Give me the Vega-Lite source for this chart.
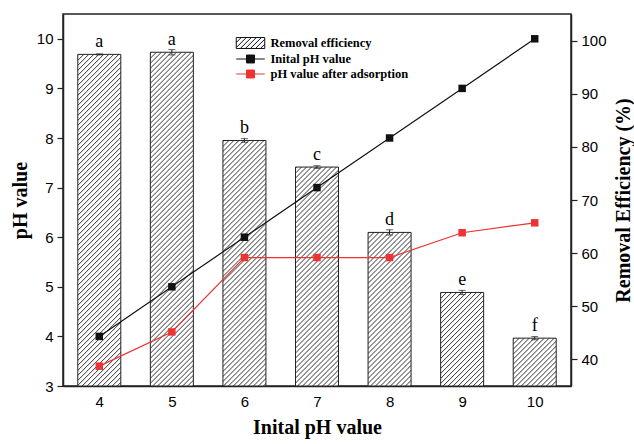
{
"$schema": "https://vega.github.io/schema/vega-lite/v6.json",
"width": 508, "height": 372,
"autosize": "none",
"padding": {"left": 63, "top": 14, "right": 63, "bottom": 58},
"background": "white",
"params": [{"name": "hatch", "value": [
{"offset":0,"color":"#fff"},{"offset":0.002,"color":"#333"},{"offset":0.004,"color":"#fff"},
{"offset":0.01,"color":"#fff"},{"offset":0.012,"color":"#333"},{"offset":0.014,"color":"#fff"},
{"offset":0.02,"color":"#fff"},{"offset":0.022,"color":"#333"},{"offset":0.024,"color":"#fff"},
{"offset":0.03,"color":"#fff"},{"offset":0.032,"color":"#333"},{"offset":0.034,"color":"#fff"},
{"offset":0.04,"color":"#fff"},{"offset":0.042,"color":"#333"},{"offset":0.044,"color":"#fff"},
{"offset":0.05,"color":"#fff"},{"offset":0.052,"color":"#333"},{"offset":0.054,"color":"#fff"},
{"offset":0.06,"color":"#fff"},{"offset":0.062,"color":"#333"},{"offset":0.064,"color":"#fff"},
{"offset":0.07,"color":"#fff"},{"offset":0.072,"color":"#333"},{"offset":0.074,"color":"#fff"},
{"offset":0.08,"color":"#fff"},{"offset":0.082,"color":"#333"},{"offset":0.084,"color":"#fff"},
{"offset":0.09,"color":"#fff"},{"offset":0.092,"color":"#333"},{"offset":0.094,"color":"#fff"},
{"offset":0.1,"color":"#fff"},{"offset":0.102,"color":"#333"},{"offset":0.104,"color":"#fff"},
{"offset":0.11,"color":"#fff"},{"offset":0.112,"color":"#333"},{"offset":0.114,"color":"#fff"},
{"offset":0.12,"color":"#fff"},{"offset":0.122,"color":"#333"},{"offset":0.124,"color":"#fff"},
{"offset":0.13,"color":"#fff"},{"offset":0.132,"color":"#333"},{"offset":0.134,"color":"#fff"},
{"offset":0.14,"color":"#fff"},{"offset":0.142,"color":"#333"},{"offset":0.144,"color":"#fff"},
{"offset":0.15,"color":"#fff"},{"offset":0.152,"color":"#333"},{"offset":0.154,"color":"#fff"},
{"offset":0.16,"color":"#fff"},{"offset":0.162,"color":"#333"},{"offset":0.164,"color":"#fff"},
{"offset":0.17,"color":"#fff"},{"offset":0.172,"color":"#333"},{"offset":0.174,"color":"#fff"},
{"offset":0.18,"color":"#fff"},{"offset":0.182,"color":"#333"},{"offset":0.184,"color":"#fff"},
{"offset":0.19,"color":"#fff"},{"offset":0.192,"color":"#333"},{"offset":0.194,"color":"#fff"},
{"offset":0.2,"color":"#fff"},{"offset":0.202,"color":"#333"},{"offset":0.204,"color":"#fff"},
{"offset":0.21,"color":"#fff"},{"offset":0.212,"color":"#333"},{"offset":0.214,"color":"#fff"},
{"offset":0.22,"color":"#fff"},{"offset":0.222,"color":"#333"},{"offset":0.224,"color":"#fff"},
{"offset":0.23,"color":"#fff"},{"offset":0.232,"color":"#333"},{"offset":0.234,"color":"#fff"},
{"offset":0.24,"color":"#fff"},{"offset":0.242,"color":"#333"},{"offset":0.244,"color":"#fff"},
{"offset":0.25,"color":"#fff"},{"offset":0.252,"color":"#333"},{"offset":0.254,"color":"#fff"},
{"offset":0.26,"color":"#fff"},{"offset":0.262,"color":"#333"},{"offset":0.264,"color":"#fff"},
{"offset":0.27,"color":"#fff"},{"offset":0.272,"color":"#333"},{"offset":0.274,"color":"#fff"},
{"offset":0.28,"color":"#fff"},{"offset":0.282,"color":"#333"},{"offset":0.284,"color":"#fff"},
{"offset":0.29,"color":"#fff"},{"offset":0.292,"color":"#333"},{"offset":0.294,"color":"#fff"},
{"offset":0.3,"color":"#fff"},{"offset":0.302,"color":"#333"},{"offset":0.304,"color":"#fff"},
{"offset":0.31,"color":"#fff"},{"offset":0.312,"color":"#333"},{"offset":0.314,"color":"#fff"},
{"offset":0.32,"color":"#fff"},{"offset":0.322,"color":"#333"},{"offset":0.324,"color":"#fff"},
{"offset":0.33,"color":"#fff"},{"offset":0.332,"color":"#333"},{"offset":0.334,"color":"#fff"},
{"offset":0.34,"color":"#fff"},{"offset":0.342,"color":"#333"},{"offset":0.344,"color":"#fff"},
{"offset":0.35,"color":"#fff"},{"offset":0.352,"color":"#333"},{"offset":0.354,"color":"#fff"},
{"offset":0.36,"color":"#fff"},{"offset":0.362,"color":"#333"},{"offset":0.364,"color":"#fff"},
{"offset":0.37,"color":"#fff"},{"offset":0.372,"color":"#333"},{"offset":0.374,"color":"#fff"},
{"offset":0.38,"color":"#fff"},{"offset":0.382,"color":"#333"},{"offset":0.384,"color":"#fff"},
{"offset":0.39,"color":"#fff"},{"offset":0.392,"color":"#333"},{"offset":0.394,"color":"#fff"},
{"offset":0.4,"color":"#fff"},{"offset":0.402,"color":"#333"},{"offset":0.404,"color":"#fff"},
{"offset":0.41,"color":"#fff"},{"offset":0.412,"color":"#333"},{"offset":0.414,"color":"#fff"},
{"offset":0.42,"color":"#fff"},{"offset":0.422,"color":"#333"},{"offset":0.424,"color":"#fff"},
{"offset":0.43,"color":"#fff"},{"offset":0.432,"color":"#333"},{"offset":0.434,"color":"#fff"},
{"offset":0.44,"color":"#fff"},{"offset":0.442,"color":"#333"},{"offset":0.444,"color":"#fff"},
{"offset":0.45,"color":"#fff"},{"offset":0.452,"color":"#333"},{"offset":0.454,"color":"#fff"},
{"offset":0.46,"color":"#fff"},{"offset":0.462,"color":"#333"},{"offset":0.464,"color":"#fff"},
{"offset":0.47,"color":"#fff"},{"offset":0.472,"color":"#333"},{"offset":0.474,"color":"#fff"},
{"offset":0.48,"color":"#fff"},{"offset":0.482,"color":"#333"},{"offset":0.484,"color":"#fff"},
{"offset":0.49,"color":"#fff"},{"offset":0.492,"color":"#333"},{"offset":0.494,"color":"#fff"},
{"offset":0.5,"color":"#fff"},{"offset":0.502,"color":"#333"},{"offset":0.504,"color":"#fff"},
{"offset":0.51,"color":"#fff"},{"offset":0.512,"color":"#333"},{"offset":0.514,"color":"#fff"},
{"offset":0.52,"color":"#fff"},{"offset":0.522,"color":"#333"},{"offset":0.524,"color":"#fff"},
{"offset":0.53,"color":"#fff"},{"offset":0.532,"color":"#333"},{"offset":0.534,"color":"#fff"},
{"offset":0.54,"color":"#fff"},{"offset":0.542,"color":"#333"},{"offset":0.544,"color":"#fff"},
{"offset":0.55,"color":"#fff"},{"offset":0.552,"color":"#333"},{"offset":0.554,"color":"#fff"},
{"offset":0.56,"color":"#fff"},{"offset":0.562,"color":"#333"},{"offset":0.564,"color":"#fff"},
{"offset":0.57,"color":"#fff"},{"offset":0.572,"color":"#333"},{"offset":0.574,"color":"#fff"},
{"offset":0.58,"color":"#fff"},{"offset":0.582,"color":"#333"},{"offset":0.584,"color":"#fff"},
{"offset":0.59,"color":"#fff"},{"offset":0.592,"color":"#333"},{"offset":0.594,"color":"#fff"},
{"offset":0.6,"color":"#fff"},{"offset":0.602,"color":"#333"},{"offset":0.604,"color":"#fff"},
{"offset":0.61,"color":"#fff"},{"offset":0.612,"color":"#333"},{"offset":0.614,"color":"#fff"},
{"offset":0.62,"color":"#fff"},{"offset":0.622,"color":"#333"},{"offset":0.624,"color":"#fff"},
{"offset":0.63,"color":"#fff"},{"offset":0.632,"color":"#333"},{"offset":0.634,"color":"#fff"},
{"offset":0.64,"color":"#fff"},{"offset":0.642,"color":"#333"},{"offset":0.644,"color":"#fff"},
{"offset":0.65,"color":"#fff"},{"offset":0.652,"color":"#333"},{"offset":0.654,"color":"#fff"},
{"offset":0.66,"color":"#fff"},{"offset":0.662,"color":"#333"},{"offset":0.664,"color":"#fff"},
{"offset":0.67,"color":"#fff"},{"offset":0.672,"color":"#333"},{"offset":0.674,"color":"#fff"},
{"offset":0.68,"color":"#fff"},{"offset":0.682,"color":"#333"},{"offset":0.684,"color":"#fff"},
{"offset":0.69,"color":"#fff"},{"offset":0.692,"color":"#333"},{"offset":0.694,"color":"#fff"},
{"offset":0.7,"color":"#fff"},{"offset":0.702,"color":"#333"},{"offset":0.704,"color":"#fff"},
{"offset":0.71,"color":"#fff"},{"offset":0.712,"color":"#333"},{"offset":0.714,"color":"#fff"},
{"offset":0.72,"color":"#fff"},{"offset":0.722,"color":"#333"},{"offset":0.724,"color":"#fff"},
{"offset":0.73,"color":"#fff"},{"offset":0.732,"color":"#333"},{"offset":0.734,"color":"#fff"},
{"offset":0.74,"color":"#fff"},{"offset":0.742,"color":"#333"},{"offset":0.744,"color":"#fff"},
{"offset":0.75,"color":"#fff"},{"offset":0.752,"color":"#333"},{"offset":0.754,"color":"#fff"},
{"offset":0.76,"color":"#fff"},{"offset":0.762,"color":"#333"},{"offset":0.764,"color":"#fff"}
]}],
"datasets": {
"bars": [
{"pH": 4, "eff": 97.4, "lo": 97.3, "hi": 97.5, "sig": "a"},
{"pH": 5, "eff": 97.8, "lo": 97.3, "hi": 98.3, "sig": "a"},
{"pH": 6, "eff": 81.2, "lo": 80.85, "hi": 81.55, "sig": "b"},
{"pH": 7, "eff": 76.2, "lo": 75.95, "hi": 76.45, "sig": "c"},
{"pH": 8, "eff": 63.9, "lo": 63.4, "hi": 64.4, "sig": "d"},
{"pH": 9, "eff": 52.6, "lo": 52.2, "hi": 53.0, "sig": "e"},
{"pH": 10, "eff": 44.0, "lo": 43.7, "hi": 44.3, "sig": "f"}
],
"ph": [
{"pH": 4, "series": "Inital pH value", "value": 4},
{"pH": 5, "series": "Inital pH value", "value": 5},
{"pH": 6, "series": "Inital pH value", "value": 6},
{"pH": 7, "series": "Inital pH value", "value": 7},
{"pH": 8, "series": "Inital pH value", "value": 8},
{"pH": 9, "series": "Inital pH value", "value": 9},
{"pH": 10, "series": "Inital pH value", "value": 10},
{"pH": 4, "series": "pH value after adsorption", "value": 3.40},
{"pH": 5, "series": "pH value after adsorption", "value": 4.09},
{"pH": 6, "series": "pH value after adsorption", "value": 5.59},
{"pH": 7, "series": "pH value after adsorption", "value": 5.59},
{"pH": 8, "series": "pH value after adsorption", "value": 5.59},
{"pH": 9, "series": "pH value after adsorption", "value": 6.09},
{"pH": 10, "series": "pH value after adsorption", "value": 6.29}
]
},
"layer": [
{"data": {"name": "bars"}, "layer": [
 {"mark": {"type": "bar", "width": 43, "stroke": "#222", "strokeWidth": 1,
   "fill": {"expr": "{gradient: 'linear', x1: 0, y1: 0, x2: 500*43/(1849 + pow((datum.eff-35)*5.3143, 2)), y2: 500*(datum.eff-35)*5.3143/(1849 + pow((datum.eff-35)*5.3143, 2)), stops: hatch}"}},
  "encoding": {
   "x": {"field": "pH", "type": "quantitative", "scale": {"domain": [3.5, 10.5], "nice": false, "zero": false, "padding": 0},
     "axis": {"values": [4,5,6,7,8,9,10], "tickSize": -6, "labelPadding": 14, "labelFlush": false, "format": "d",
       "title": "Inital pH value", "titleX": 254, "titleY": 47, "titleAlign": "center", "titleBaseline": "alphabetic", "titleAnchor": null}},
   "y": {"field": "eff", "type": "quantitative", "scale": {"domain": [35, 105], "nice": false, "zero": false},
     "axis": {"orient": "right", "values": [40,45,50,55,60,65,70,75,80,85,90,95,100],
       "labelExpr": "abs(datum.value - 10*round(datum.value/10)) < 0.01 ? datum.label : ''",
       "tickSize": {"condition": {"test": "abs(datum.value - 10*round(datum.value/10)) < 0.01", "value": 6}, "value": 3},
       "labelPadding": 4, "labelOverlap": false, "labelFlush": false, "format": "d",
       "title": "Removal Efficiency (%)", "titleAngle": 270, "titleX": 58.7, "titleY": 186, "titleAlign": "center", "titleBaseline": "alphabetic"}},
   "y2": {"datum": 35}
  }},
 {"mark": {"type": "rule", "color": "#222", "strokeWidth": 1},
  "encoding": {
   "x": {"field": "pH", "type": "quantitative"},
   "y": {"field": "lo", "type": "quantitative", "title": "Removal Efficiency (%)"},
   "y2": {"field": "hi"}
  }},
 {"mark": {"type": "tick", "orient": "horizontal", "size": 7, "thickness": 1, "color": "#222"},
  "encoding": {
   "x": {"field": "pH", "type": "quantitative"},
   "y": {"field": "lo", "type": "quantitative", "title": "Removal Efficiency (%)"}
  }},
 {"mark": {"type": "tick", "orient": "horizontal", "size": 7, "thickness": 1, "color": "#222"},
  "encoding": {
   "x": {"field": "pH", "type": "quantitative"},
   "y": {"field": "hi", "type": "quantitative", "title": "Removal Efficiency (%)"}
  }},
 {"mark": {"type": "text", "dy": -7, "baseline": "alphabetic", "align": "center", "font": "Liberation Serif", "fontSize": 18, "color": "black"},
  "encoding": {
   "x": {"field": "pH", "type": "quantitative"},
   "y": {"field": "eff", "type": "quantitative", "title": "Removal Efficiency (%)"},
   "text": {"field": "sig"}
  }}
]},
{"data": {"name": "ph"}, "layer": [
 {"mark": {"type": "line", "strokeWidth": 1.2},
  "encoding": {
   "x": {"field": "pH", "type": "quantitative"},
   "y": {"field": "value", "type": "quantitative", "scale": {"domain": [3, 10.5], "nice": false, "zero": false},
     "axis": {"orient": "left", "values": [3,3.5,4,4.5,5,5.5,6,6.5,7,7.5,8,8.5,9,9.5,10],
       "labelExpr": "datum.value % 1 === 0 ? datum.label : ''",
       "tickSize": {"condition": {"test": "datum.value % 1 === 0", "value": 6}, "value": 3},
       "labelPadding": 4, "labelOverlap": false, "labelFlush": false,
       "title": "pH value", "titleAngle": 270, "titleX": -36.5, "titleY": 186, "titleAlign": "center", "titleBaseline": "alphabetic"}},
   "color": {"field": "series", "type": "nominal",
     "scale": {"domain": ["Removal efficiency", "Inital pH value", "pH value after adsorption"], "range": ["#111", "#111", "#ee3333"]},
     "legend": {"orient": "none", "legendX": 179.5, "legendY": 21, "title": null, "direction": "vertical",
       "symbolSize": 225, "labelOffset": 12, "rowPadding": 0, "padding": 0, "labelLimit": 300,
       "labelFont": "Liberation Serif", "labelFontWeight": "bold", "labelFontSize": 12.5, "labelColor": "black",
       "encode": {"symbols": {"update": {
         "shape": {"signal": "datum.value === 'Removal efficiency' ? 'M-1.9,-0.73H1.9M1.9,-0.73V0.73M1.9,0.73H-1.9M-1.9,0.73V-0.73M-1.9,-0.06L-1.23,-0.73M-1.9,0.61L-0.56,-0.73M-1.35,0.73L0.11,-0.73M-0.68,0.73L0.78,-0.73M-0.01,0.73L1.45,-0.73M0.66,0.73L1.9,-0.51M1.33,0.73L1.9,0.16' : 'M-1.9,0H-0.53M0.53,0H1.9M-0.53,-0.53H0.53V0.53H-0.53Z'"},
         "strokeWidth": {"value": 1},
         "opacity": {"value": 1}
       }}}}}
  }},
 {"mark": {"type": "point", "shape": "square", "filled": true, "size": 56, "opacity": 1},
  "encoding": {
   "x": {"field": "pH", "type": "quantitative"},
   "y": {"field": "value", "type": "quantitative", "title": "pH value"},
   "color": {"field": "series", "type": "nominal"}
  }}
]}
],
"resolve": {"scale": {"y": "independent"}},
"config": {
 "view": {"stroke": "#222", "strokeWidth": 1.5},
 "axis": {"grid": false, "domainColor": "#222", "domainWidth": 1.5, "tickColor": "#222", "tickWidth": 1.2,
   "labelFont": "Liberation Sans", "labelFontSize": 15, "labelColor": "black",
   "titleFont": "Liberation Serif", "titleFontSize": 20, "titleFontWeight": "bold", "titleColor": "black"},
 "text": {"font": "Liberation Serif"}
}
}
